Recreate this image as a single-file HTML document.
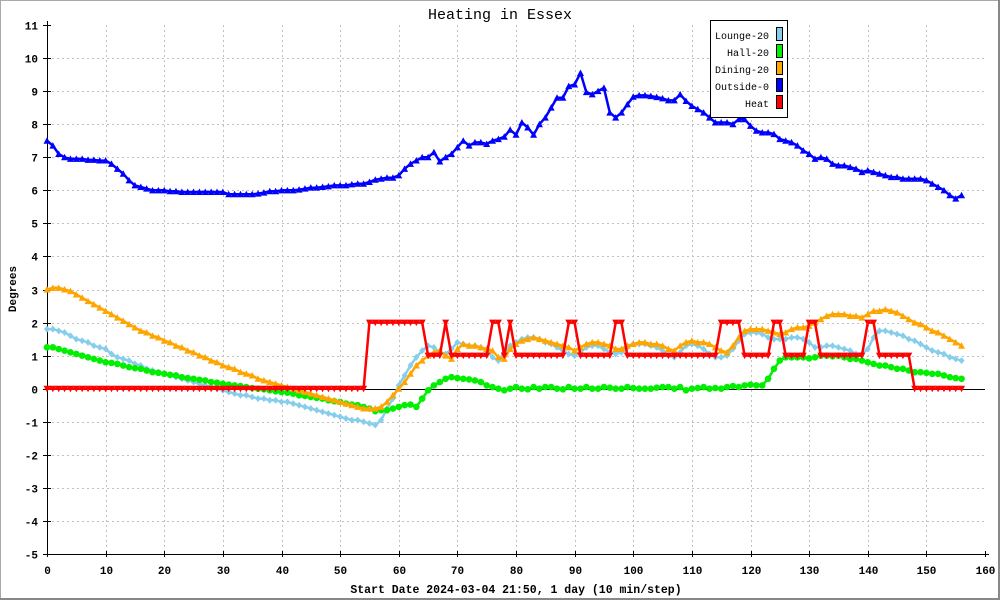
<!DOCTYPE html>
<html><head><meta charset="utf-8"><style>
body{margin:0;background:#fff}
svg{display:block;font-family:"Liberation Mono","DejaVu Sans Mono",monospace}
</style></head><body>
<svg id="c" width="1000" height="600" viewBox="0 0 1000 600">
<rect x="0" y="0" width="1000" height="600" fill="#fff"/>
<rect x="0.5" y="0.5" width="998" height="598" fill="none" stroke="#aaa"/>
<line x1="999" y1="0" x2="999" y2="600" stroke="#888" stroke-width="2"/>
<line x1="0" y1="599" x2="1000" y2="599" stroke="#888" stroke-width="2"/>
<rect x="47" y="25" width="938" height="529" fill="#fff"/>
<text x="500" y="19" text-anchor="middle" font-size="15">Heating in Essex</text>
<text transform="translate(16,289) rotate(-90)" text-anchor="middle" font-size="11" font-weight="bold">Degrees</text>
<text x="516" y="593" text-anchor="middle" font-size="11.5" font-weight="bold">Start Date 2024-03-04 21:50, 1 day (10 min/step)</text>
<g id="grid"></g><g id="series"></g>
<g>
<rect x="710.5" y="20.5" width="77" height="97" fill="#fff" stroke="#000"/>
<g font-size="10" text-anchor="end">
<text x="769" y="39">Lounge-20</text><text x="769" y="56">Hall-20</text><text x="769" y="73">Dining-20</text><text x="769" y="90">Outside-0</text><text x="769" y="107">Heat</text></g>
<rect x="776.5" y="27.5" width="6" height="13" fill="#87ceeb" stroke="#000"/>
<rect x="776.5" y="44.5" width="6" height="13" fill="#00ee00" stroke="#000"/>
<rect x="776.5" y="61.5" width="6" height="13" fill="#ffa500" stroke="#000"/>
<rect x="776.5" y="78.5" width="6" height="13" fill="#0000ff" stroke="#000"/>
<rect x="776.5" y="95.5" width="6" height="13" fill="#ff0000" stroke="#000"/>
</g>
</svg>
<script>
const xTicks=[0,10,20,30,40,50,60,70,80,90,100,110,120,130,140,150,160];
const yTicks=[-5,-4,-3,-2,-1,0,1,2,3,4,5,6,7,8,9,10,11];
const lounge=[1.8,1.8,1.75,1.7,1.6,1.5,1.45,1.4,1.3,1.25,1.2,1.05,0.95,0.9,0.85,0.75,0.7,0.6,0.55,0.5,0.45,0.4,0.35,0.3,0.25,0.2,0.15,0.1,0.05,0.0,-0.05,-0.1,-0.15,-0.2,-0.2,-0.25,-0.3,-0.3,-0.35,-0.35,-0.4,-0.4,-0.45,-0.5,-0.55,-0.6,-0.65,-0.7,-0.75,-0.8,-0.85,-0.9,-0.95,-0.95,-1.0,-1.05,-1.1,-0.95,-0.6,-0.3,0.1,0.4,0.7,0.95,1.15,1.3,1.25,1.1,1.05,1.2,1.4,1.35,1.3,1.3,1.25,1.15,0.95,0.85,1.1,1.3,1.4,1.5,1.55,1.55,1.5,1.4,1.35,1.25,1.15,1.05,1.0,1.1,1.25,1.3,1.3,1.2,1.1,1.05,1.1,1.25,1.35,1.35,1.35,1.3,1.25,1.15,1.0,0.95,1.1,1.3,1.35,1.3,1.2,1.05,0.95,0.95,1.0,1.2,1.45,1.65,1.7,1.7,1.65,1.55,1.5,1.5,1.5,1.55,1.55,1.5,1.4,1.25,1.25,1.3,1.3,1.25,1.2,1.15,1.05,1.05,1.2,1.55,1.75,1.75,1.7,1.65,1.6,1.5,1.45,1.35,1.25,1.15,1.1,1.05,0.95,0.9,0.85];
const hall=[1.25,1.25,1.2,1.15,1.1,1.05,1.0,0.95,0.9,0.85,0.8,0.78,0.75,0.7,0.65,0.62,0.6,0.55,0.5,0.48,0.45,0.42,0.4,0.35,0.32,0.3,0.27,0.25,0.2,0.18,0.15,0.12,0.1,0.08,0.05,0.02,0.0,-0.02,-0.05,-0.08,-0.1,-0.12,-0.15,-0.2,-0.22,-0.25,-0.28,-0.3,-0.35,-0.38,-0.4,-0.45,-0.48,-0.5,-0.55,-0.6,-0.68,-0.65,-0.65,-0.6,-0.55,-0.5,-0.48,-0.55,-0.3,-0.05,0.1,0.2,0.3,0.35,0.32,0.3,0.28,0.25,0.2,0.1,0.05,0.0,-0.05,0.0,0.05,0.0,-0.02,0.05,0.0,0.05,0.05,0.0,-0.02,0.05,0.0,0.0,0.05,0.0,0.0,0.05,0.03,0.0,0.0,0.05,0.02,0.0,0.0,0.0,0.03,0.05,0.05,0.0,0.05,-0.05,0.0,0.02,0.05,0.0,0.02,0.0,0.05,0.08,0.05,0.1,0.12,0.1,0.1,0.3,0.6,0.85,0.95,0.95,0.95,0.95,0.92,0.95,1.0,1.0,0.98,1.0,0.95,0.9,0.9,0.85,0.8,0.75,0.7,0.7,0.65,0.6,0.6,0.55,0.5,0.5,0.48,0.45,0.45,0.4,0.35,0.32,0.3];
const dining=[3.0,3.05,3.05,3.0,2.95,2.85,2.75,2.65,2.55,2.45,2.35,2.25,2.15,2.05,1.95,1.85,1.75,1.7,1.6,1.55,1.45,1.4,1.3,1.25,1.15,1.1,1.0,0.95,0.85,0.8,0.7,0.65,0.6,0.5,0.45,0.4,0.3,0.25,0.2,0.15,0.1,0.05,0.0,-0.05,-0.1,-0.15,-0.2,-0.25,-0.3,-0.35,-0.4,-0.45,-0.5,-0.55,-0.6,-0.6,-0.6,-0.55,-0.4,-0.2,0.0,0.2,0.45,0.7,0.85,1.0,1.1,1.15,1.0,0.9,1.2,1.35,1.3,1.3,1.25,1.2,1.15,0.95,0.9,1.2,1.35,1.45,1.5,1.55,1.5,1.45,1.4,1.35,1.3,1.25,1.15,1.25,1.35,1.4,1.4,1.35,1.3,1.2,1.2,1.3,1.35,1.4,1.4,1.35,1.35,1.3,1.2,1.15,1.3,1.4,1.45,1.4,1.4,1.35,1.25,1.15,1.1,1.3,1.55,1.75,1.8,1.8,1.8,1.75,1.7,1.65,1.7,1.8,1.85,1.85,1.9,2.0,2.1,2.2,2.25,2.25,2.25,2.2,2.2,2.15,2.25,2.35,2.35,2.4,2.35,2.3,2.2,2.1,2.0,1.95,1.85,1.75,1.7,1.6,1.5,1.4,1.3];
const outside=[7.5,7.35,7.1,7.0,6.95,6.95,6.95,6.92,6.92,6.9,6.9,6.8,6.65,6.5,6.3,6.15,6.1,6.05,6.0,6.0,6.0,5.97,5.97,5.95,5.95,5.95,5.95,5.95,5.95,5.95,5.95,5.88,5.88,5.88,5.88,5.88,5.9,5.93,5.97,5.97,6.0,6.0,6.0,6.02,6.05,6.08,6.08,6.1,6.12,6.15,6.15,6.15,6.18,6.2,6.2,6.25,6.32,6.35,6.38,6.38,6.45,6.65,6.8,6.9,7.0,7.0,7.15,6.87,7.0,7.1,7.3,7.5,7.35,7.45,7.45,7.4,7.5,7.55,7.62,7.83,7.68,8.05,7.9,7.68,8.0,8.2,8.5,8.8,8.8,9.15,9.2,9.55,8.97,8.9,9.0,9.1,8.35,8.2,8.35,8.6,8.83,8.87,8.87,8.85,8.82,8.78,8.72,8.72,8.9,8.7,8.55,8.45,8.35,8.2,8.05,8.05,8.05,8.0,8.15,8.15,7.95,7.8,7.75,7.75,7.7,7.55,7.5,7.45,7.35,7.2,7.1,6.95,7.0,6.95,6.8,6.75,6.75,6.7,6.65,6.55,6.6,6.55,6.5,6.45,6.4,6.4,6.35,6.35,6.35,6.35,6.3,6.2,6.1,6.0,5.85,5.75,5.85];
const heat=[0,0,0,0,0,0,0,0,0,0,0,0,0,0,0,0,0,0,0,0,0,0,0,0,0,0,0,0,0,0,0,0,0,0,0,0,0,0,0,0,0,0,0,0,0,0,0,0,0,0,0,0,0,0,0,2,2,2,2,2,2,2,2,2,2,1,1,1,2,1,1,1,1,1,1,1,2,2,1,2,1,1,1,1,1,1,1,1,1,2,2,1,1,1,1,1,1,2,2,1,1,1,1,1,1,1,1,1,1,1,1,1,1,1,1,2,2,2,2,1,1,1,1,1,2,2,1,1,1,1,2,2,1,1,1,1,1,1,1,1,2,2,1,1,1,1,1,1,0,0,0,0,0,0,0,0,0];
const NS='http://www.w3.org/2000/svg';
const X0=47,X1=985,Y0=554,Y1=25;
function xs(v){return X0+(v-0)/(160-0)*(X1-X0);}
function ys(v){return Y0-(v+5)/(16)*(Y0-Y1);}
function mk(tag,attrs,parent){const e=document.createElementNS(NS,tag);for(const k in attrs)e.setAttribute(k,attrs[k]);parent.appendChild(e);return e;}
const grid=document.getElementById('grid');
xTicks.forEach(t=>{
  const x=Math.round(xs(t))+0.5;
  if(t>0&&t<160){const l=mk('line',{x1:x,x2:x,y1:Y1,y2:Y0,stroke:'#c0c0c0','stroke-dasharray':'2,3'},grid);
  
  }
  mk('line',{x1:x,x2:x,y1:Y0-3,y2:Y0+3,stroke:'#000'},grid);
  const tx=mk('text',{x:x,y:Y0+20,'text-anchor':'middle','font-size':11,'font-weight':'bold'},grid);
  tx.textContent=t;
  
  
});
yTicks.forEach(t=>{
  const y=Math.round(ys(t))+0.5;
  if(t>-5&&t<11){const l=mk('line',{x1:X0,x2:X1,y1:y,y2:y,stroke:'#c0c0c0','stroke-dasharray':'2,3'},grid);
  
  }
  mk('line',{x1:X0-4,x2:X0+4,y1:y,y2:y,stroke:'#000'},grid);
  const tx=mk('text',{x:X0-9,y:y+4,'text-anchor':'end','font-size':11,'font-weight':'bold'},grid);
  tx.textContent=t;
  
  
});
const zl=mk('line',{x1:X0,x2:X1,y1:Math.round(ys(0))+0.5,y2:Math.round(ys(0))+0.5,stroke:'#000'},grid);


mk('line',{x1:X0+0.5,x2:X0+0.5,y1:Y1-4,y2:Y0+1,stroke:'#000'},grid);
mk('line',{x1:X0,x2:X1+4,y1:Y0+0.5,y2:Y0+0.5,stroke:'#000'},grid);
const sg=document.getElementById('series');
function draw(name,data,color,shape){
  const g=mk('g',{},sg);
  
  
  const pts=data.map((v,i)=>xs(i).toFixed(1)+','+ys(v).toFixed(1)).join(' ');
  const pl=mk('polyline',{points:pts,fill:'none',stroke:color,'stroke-width':2.5,'stroke-linejoin':'round'},g);
  
  
  data.forEach((v,i)=>{
    const x=xs(i),y=ys(v);let m;
    if(shape==='tri') m=mk('polygon',{points:`${x-3.5},${y+3} ${x+3.5},${y+3} ${x},${y-3.5}`,fill:color},g);
    else if(shape==='dtri') m=mk('polygon',{points:`${x-3.5},${y-3} ${x+3.5},${y-3} ${x},${y+3.5}`,fill:color},g);
    else if(shape==='circ') m=mk('circle',{cx:x,cy:y,r:3.3,fill:color},g);
    else m=mk('polygon',{points:`${x},${y-3.5} ${x+3},${y} ${x},${y+3.5} ${x-3},${y}`,fill:color},g);
    
    
  });
}
draw('lounge',lounge,'#87ceeb','dia');
draw('hall',hall,'#00ee00','circ');
draw('dining',dining,'#ffa500','tri');
draw('outside',outside,'#0000ff','tri');
draw('heat',heat,'#ff0000','dtri');
</script>
</body></html>
